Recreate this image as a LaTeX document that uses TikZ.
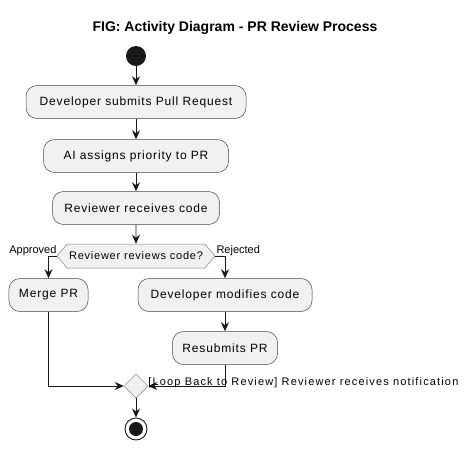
\documentclass[tikz,border=0pt]{standalone}
\usepackage{fontspec}
\setmainfont{Liberation Sans}
\newfontfamily\boxfont[LetterSpace=7]{Liberation Sans}
\newfontfamily\loopfont[LetterSpace=10.5]{Liberation Sans}
\usetikzlibrary{arrows.meta,shapes.geometric,shapes.symbols}
\definecolor{umlline}{HTML}{181818}
\definecolor{umlfill}{HTML}{F1F1F1}
\tikzset{
  action/.style={draw=umlline!80,line width=0.5pt,fill=umlfill,rounded corners=11pt,
    minimum height=33pt,inner xsep=10pt,font=\boxfont\fontsize{12}{14}\selectfont},
  choice/.style={signal,signal to=west and east,signal pointer angle=100,draw=gray,
    line width=0.5pt,fill=umlfill,minimum height=24pt,inner xsep=2pt,
    font=\boxfont\fontsize{11}{13}\selectfont},
  flow/.style={-{Stealth[length=9pt,width=8pt,inset=3pt]},color=umlline,line width=0.9pt},
  tag/.style={font=\fontsize{11}{13}\selectfont,inner sep=0pt}
}
\begin{document}
\begin{tikzpicture}[x=1pt,y=-1pt]
        \useasboundingbox[fill=white] (0,0) rectangle (472,451);

        % title
        \node[font=\bfseries\fontsize{14}{16}\selectfont] at (235,28) (title) {FIG: Activity Diagram - PR Review Process};

        % start
        \node[circle,fill=umlline,minimum size=20pt,inner sep=0pt] at (136,56) (start) {};

        % actions
        \node[action,minimum width=220pt] at (136,102) (submit) {Developer submits Pull Request};
        \node[action,minimum width=185pt] at (136,156) (priority) {AI assigns priority to PR};
        \node[action,minimum width=167pt] at (136,208) (receive) {Reviewer receives code};
        \node[choice] at (136,256) (review) {Reviewer reviews code?};
        \node[action,minimum width=75pt] at (48.5,295) (merge) {Merge PR};
        \node[action,minimum width=174pt] at (225,295) (modify) {Developer modifies code};
        \node[action,minimum width=100pt] at (225,348) (resubmit) {Resubmits PR};

        % merge and end
        \node[diamond,draw=gray,line width=0.5pt,fill=umlfill,minimum size=24pt,inner sep=0pt] at (136,386) (join) {};
        \node[circle,draw=umlline,line width=0.9pt,fill=white,minimum size=22pt,inner sep=0pt] at (136,429) (stop) {};
        \node[circle,fill=umlline,minimum size=14pt,inner sep=0pt] at (stop) (stop dot) {};

        % links
        \draw[flow] (start) -- (submit);
        \draw[flow] (submit) -- (priority);
        \draw[flow] (priority) -- (receive);
        \draw[flow] (receive) -- (review);
        \draw[flow] (review.west) -| (merge.north);
        \draw[flow] (review.east) -| (modify.north);
        \draw[flow] (modify) -- (resubmit);
        \draw[flow] (merge.south) |- (join.west);
        \draw[flow] (resubmit.south) |- (join.east);
        \draw[flow] (join) -- (stop);

        % labels
        \node[tag,anchor=base east] at ([yshift=3pt]review.west) (approved) {Approved};
        \node[tag,anchor=base west] at ([xshift=1pt,yshift=3pt]review.east) (rejected) {Rejected};
        \node[tag,font=\loopfont\fontsize{11}{13}\selectfont,anchor=base west] at ([yshift=1pt]join.east) (loop) {[Loop Back to Review] Reviewer receives notification};
    \end{tikzpicture}
\end{document}
